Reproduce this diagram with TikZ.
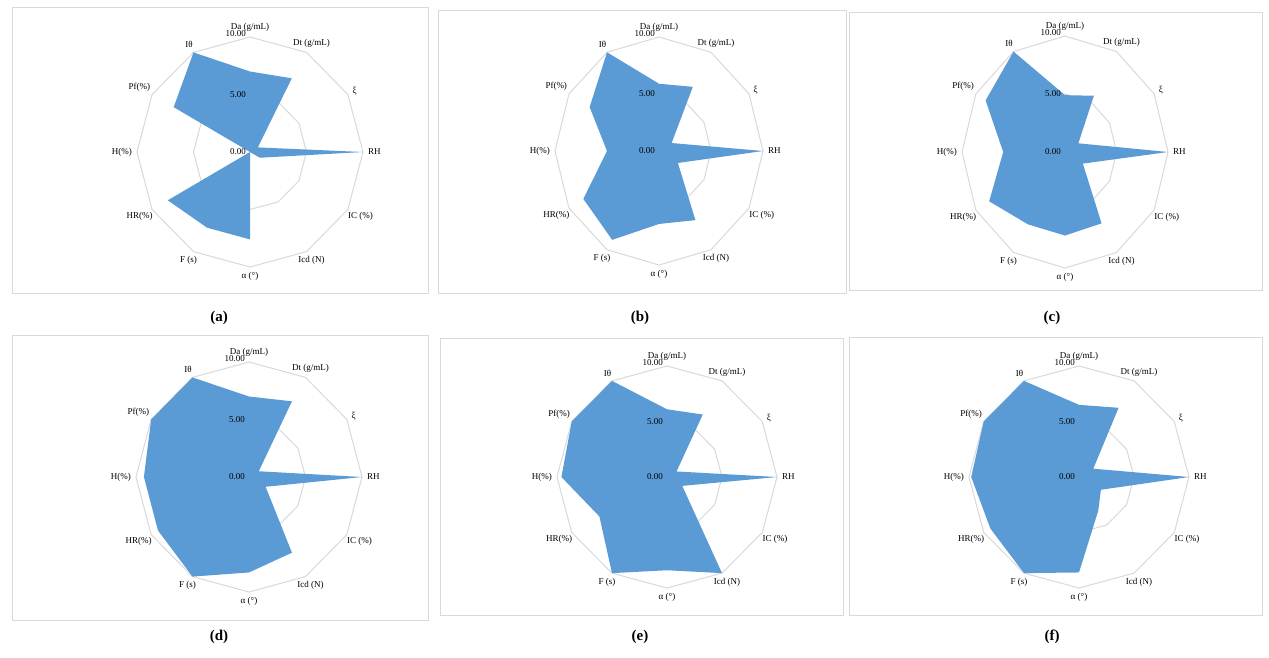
\documentclass[tikz,border=0pt]{standalone}
\usepackage{fontspec}
\setmainfont{Liberation Serif}
\definecolor{radarblue}{HTML}{5B9BD5}
\definecolor{gridgray}{HTML}{D9D9D9}
\tikzset{
  gridline/.style={draw=gridgray, line width=1pt},
  radarfill/.style={fill=radarblue},
  panelbox/.style={draw=gridgray, line width=1pt},
  axislab/.style={font=\fontsize{9}{10}\selectfont, inner sep=1pt},
  ticklab/.style={font=\fontsize{9}{10}\selectfont, anchor=east, inner sep=1pt},
  panellab/.style={font=\fontsize{15}{16}\selectfont\bfseries}
}
% #1 cx, #2 cy, #3 rx, #4 ry, #5 Da value, #6 remaining 11 values, #7 prefix
\newcommand\radarchart[7]{%
  \foreach \rr in {5,10}{
    \draw[gridline] (#1,{#2-\rr/10*#4}) \foreach \i in {1,...,11}{ -- ({#1+\rr/10*#3*cos(90-30*\i)},{#2-\rr/10*#4*sin(90-30*\i)})} -- cycle;
  }
  \fill[radarfill] (#1,{#2-#5/10*#4}) \foreach \v [count=\i] in {#6}{ -- ({#1+\v/10*#3*cos(90-30*\i)},{#2-\v/10*#4*sin(90-30*\i)})} -- cycle;
  \foreach \lab [count=\i from 0] in {Da (g/mL),Dt (g/mL),ξ,RH,IC (\%),Icd (N),α (°),F (s),HR(\%),H(\%),Pf(\%),Iθ}{
    \node[axislab, anchor={90-30*\i+180}] (#7l\i) at ({#1+(#3+4)*cos(90-30*\i)},{#2-(#4+4)*sin(90-30*\i)}) {\lab};
  }
  \node[ticklab] (#7t0) at ({#1-3},{#2}) {0.00};
  \node[ticklab] (#7t5) at ({#1-3},{#2-0.5*#4}) {5.00};
  \node[ticklab] (#7t10) at ({#1-3},{#2-#4-3}) {10.00};
}
\begin{document}
\begin{tikzpicture}[x=1pt,y=-1pt]
\useasboundingbox (0,0) rectangle (1269,657);
\fill[white] (0,0) rectangle (1269,657);
% panel frames
\draw[panelbox] (12,7) rectangle (428,293);
\draw[panelbox] (438,10) rectangle (846,293);
\draw[panelbox] (849,12) rectangle (1262,290);
\draw[panelbox] (12,335) rectangle (428,620);
\draw[panelbox] (440,338) rectangle (843,615);
\draw[panelbox] (849,337) rectangle (1262,615);
% charts
\radarchart{250}{152}{113}{115}{7.0}{7.4,0.8,10,1.0,0,7.6,7.6,8.4,0,7.8,10}{a}
\radarchart{659}{151}{104}{114}{5.9}{6.5,1.4,10,2.1,7.0,6.4,9.0,8.4,5.0,7.7,10}{b}
\radarchart{1065}{152}{103}{116}{4.9}{5.6,1.5,10,2.0,7.1,7.2,7.2,8.5,6.0,8.9,10}{c}
\radarchart{249}{477}{113}{115}{7.0}{7.6,1.0,10,1.7,7.6,8.3,10,9.3,9.3,10,10}{d}
\radarchart{667}{477}{110}{111}{6.1}{6.5,1.0,10,1.6,10,8.4,10,7.1,9.6,10,10}{e}
\radarchart{1079}{477}{110}{111}{6.5}{7.2,1.5,10,2.3,3.5,8.6,10,9.3,9.8,10,10}{f}
% panel labels
\node[panellab] (pa) at (219,318) {(a)};
\node[panellab] (pb) at (640,318) {(b)};
\node[panellab] (pc) at (1052,318) {(c)};
\node[panellab] (pd) at (219,637) {(d)};
\node[panellab] (pe) at (640,637) {(e)};
\node[panellab] (pf) at (1052,637) {(f)};
\end{tikzpicture}
\end{document}
